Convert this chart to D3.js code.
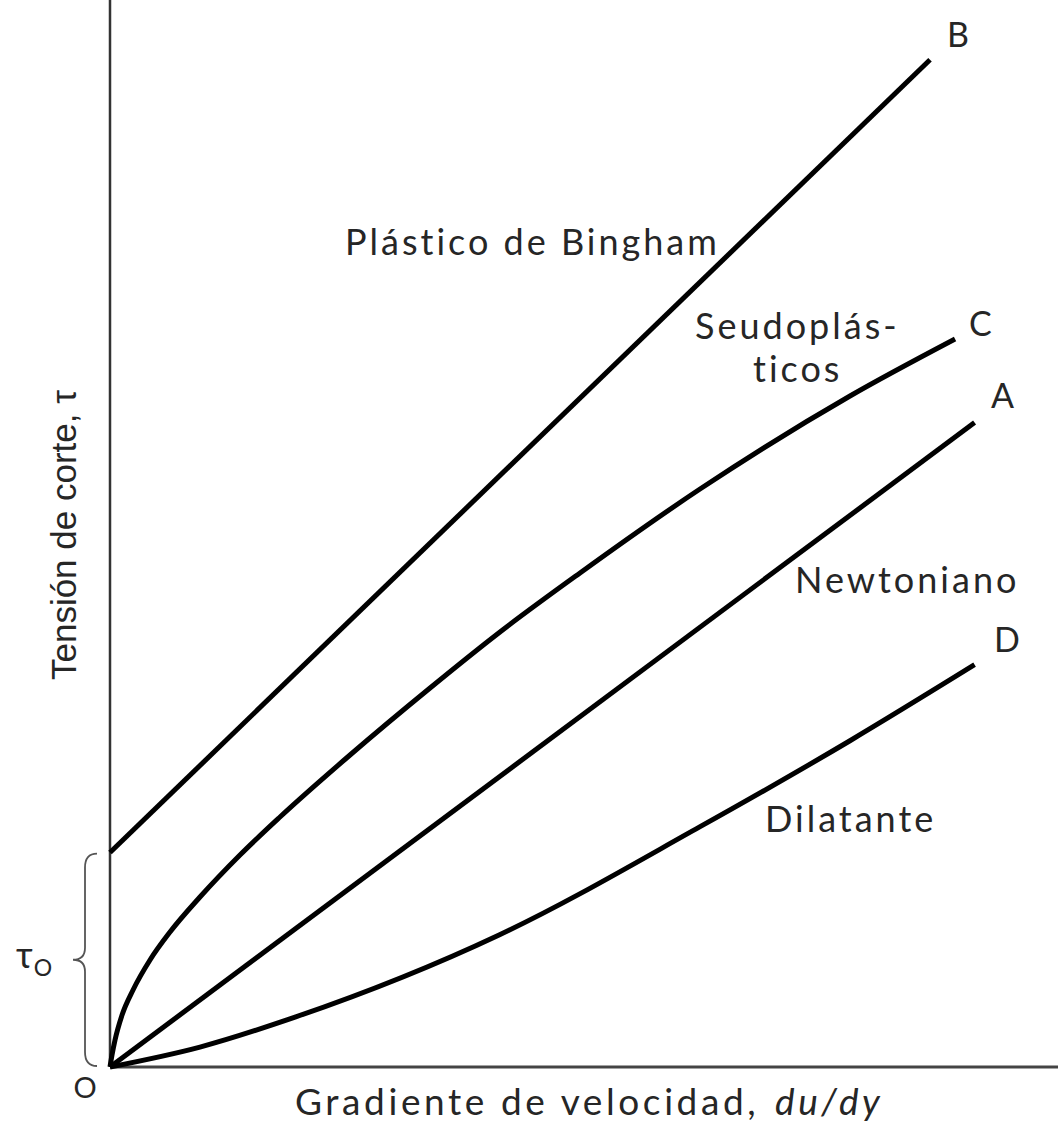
<!DOCTYPE html>
<html>
<head>
<meta charset="utf-8">
<script src="https://cdn.jsdelivr.net/npm/d3@7"></script>
<style>
  body { margin: 0; background: #fff; }
  svg { display: block; }
  .lbl { font-family: Lato, "Noto Sans", sans-serif; fill: #262626; font-variant-ligatures: none; }
</style>
</head>
<body>
<svg id="chart" width="1058" height="1125"></svg>
<script>
// curve data: [shear rate, shear stress] in arbitrary units (0..100)
const bingham = [[0, 20.1], [86.5, 94.4]];
const pseudo = [[0, 0], [0.21, 1.12], [0.53, 2.53], [1.27, 4.87], [2.43, 7.22], [4.22, 10.03],
                [6.33, 12.65], [9.49, 15.93], [13.71, 19.87], [17.93, 23.43], [25.32, 29.24],
                [33.76, 35.52], [41.14, 40.77], [49.58, 46.3], [62.24, 54.17], [78.06, 62.89],
                [89.14, 68.23]];
const newtonian = [[0, 0], [91.2, 60.4]];
const dilatant = [[0, 0], [9.49, 1.87], [19.6, 4.7], [41.1, 12.4], [62.2, 22.5], [78.1, 30.6], [91.2, 37.7]];
const tau0 = 20.1;

const curveLetters = ["B", "C", "A", "D"];

const width = 1058, height = 1125;
const svg = d3.select("#chart");

const x = d3.scaleLinear().domain([0, 100]).range([110, 1058]);
const y = d3.scaleLinear().domain([0, 100]).range([1067, 0]);

const line = d3.line()
    .x(function (d) { return x(d[0]); })
    .y(function (d) { return y(d[1]); })
    .curve(d3.curveMonotoneX);

// axes (plain lines, no ticks)
svg.append("line")
    .attr("x1", x(0)).attr("y1", y(0))
    .attr("x2", x(0)).attr("y2", 0)
    .attr("stroke", "#333").attr("stroke-width", 2.5);
svg.append("line")
    .attr("x1", x(0)).attr("y1", y(0))
    .attr("x2", width).attr("y2", y(0))
    .attr("stroke", "#444").attr("stroke-width", 3);

// the four curves
[bingham, pseudo, newtonian, dilatant].forEach(function (d) {
    svg.append("path")
        .datum(d)
        .attr("d", line)
        .attr("fill", "none")
        .attr("stroke", "#000")
        .attr("stroke-width", 5)
        .attr("stroke-linecap", "butt");
});

// curve end letters
const letterPos = [[947, 47], [969, 336], [991, 408], [994, 652]];
curveLetters.forEach(function (t, i) {
    svg.append("text").attr("class", "lbl")
        .attr("x", letterPos[i][0]).attr("y", letterPos[i][1])
        .attr("font-size", 34)
        .text(t);
});

function label(txt, px, py) {
    svg.append("text").attr("class", "lbl")
        .attr("x", px).attr("y", py)
        .attr("font-size", 36)
        .attr("letter-spacing", 3)
        .text(txt);
}
label("Plástico de Bingham", 345, 255);
label("Seudoplás-", 695, 339);
label("ticos", 753, 382);
label("Newtoniano", 795, 593);
label("Dilatante", 765, 832);

// brace for tau0
const yTop = y(tau0) + 1, yBot = y(0) - 1, yMid = (yTop + yBot) / 2;
const bx = 85;
svg.append("path")
    .attr("d", "M" + 97 + "," + yTop +
        " Q" + bx + "," + yTop + " " + bx + "," + (yTop + 14) +
        " L" + bx + "," + (yMid - 12) +
        " Q" + bx + "," + yMid + " " + 73 + "," + yMid +
        " Q" + bx + "," + yMid + " " + bx + "," + (yMid + 12) +
        " L" + bx + "," + (yBot - 14) +
        " Q" + bx + "," + yBot + " " + 97 + "," + yBot)
    .attr("fill", "none")
    .attr("stroke", "#555")
    .attr("stroke-width", 1.8);

const t0 = svg.append("text").attr("class", "lbl")
    .attr("x", 16).attr("y", 968)
    .attr("font-size", 36);
t0.append("tspan").text("τ");
t0.append("tspan").attr("font-size", 23).attr("dy", 8).attr("dx", 1).text("O");

// origin
svg.append("text").attr("class", "lbl")
    .attr("x", 85).attr("y", 1098)
    .attr("font-size", 29)
    .attr("text-anchor", "middle")
    .text("O");

// axis titles
svg.append("text").attr("class", "lbl")
    .attr("x", 295).attr("y", 1115)
    .attr("font-size", 37)
    .attr("letter-spacing", 3.6)
    .text("Gradiente de velocidad,");
svg.append("text").attr("class", "lbl")
    .attr("x", 775).attr("y", 1115)
    .attr("font-size", 37)
    .attr("font-style", "italic")
    .attr("letter-spacing", 3.6)
    .text("du/dy");

svg.append("text")
    .attr("transform", "translate(76,535) rotate(-90)")
    .attr("font-family", "Liberation Sans, Arial, sans-serif")
    .attr("fill", "#262626")
    .attr("font-size", 35)
    .attr("text-anchor", "middle")
    .text("Tensión de corte, τ");
</script>
</body>
</html>
